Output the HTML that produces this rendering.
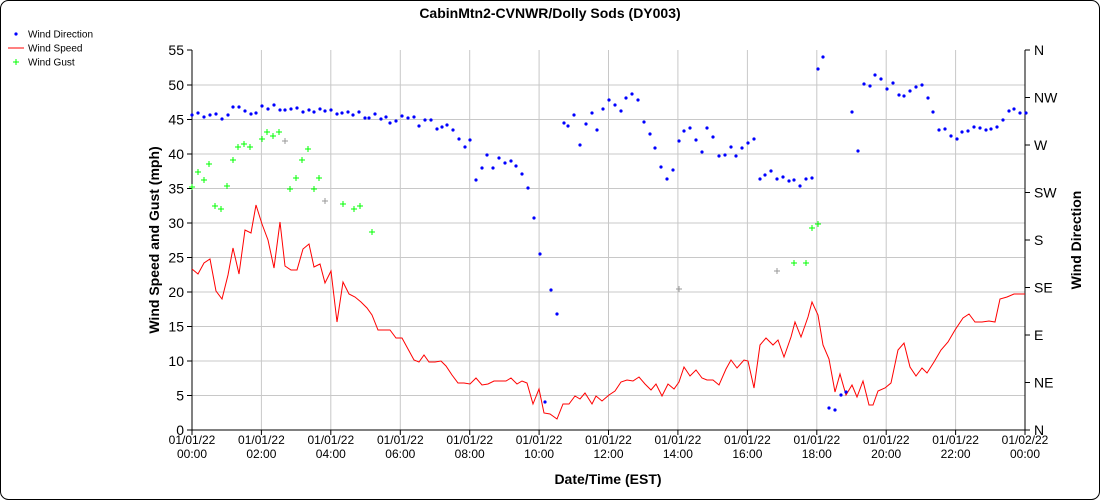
<!DOCTYPE html>
<html><head><meta charset="utf-8"><style>body{margin:0;background:#fff}svg{display:block;font-family:"Liberation Sans",sans-serif}</style></head><body>
<svg width="1100" height="500" viewBox="0 0 1100 500" xmlns="http://www.w3.org/2000/svg">
<rect x="0.5" y="0.5" width="1099" height="499" rx="8" fill="#fff" stroke="#000"/>
<text x="550" y="18" text-anchor="middle" font-size="14" font-weight="bold">CabinMtn2-CVNWR/Dolly Sods (DY003)</text>
<g font-size="10">
<circle cx="16" cy="34" r="1.6" fill="#00f"/><text x="28" y="37.5">Wind Direction</text>
<line x1="8" y1="48" x2="24" y2="48" stroke="#f00"/><text x="28" y="51.5">Wind Speed</text>
<path d="M13 62h6M16 59v6" stroke="#0f0"/><text x="28" y="65.5">Wind Gust</text>
</g>
<g stroke="#c8c8c8" stroke-width="1">
<path d="M192 395.5H1025M192 361H1025M192 326.5H1025M192 292H1025M192 257.5H1025M192 223H1025M192 188.5H1025M192 154H1025M192 119.5H1025M192 85H1025"/>
<path d="M261.4 50V430M330.8 50V430M400.3 50V430M469.7 50V430M539.1 50V430M608.5 50V430M677.9 50V430M747.4 50V430M816.8 50V430M886.2 50V430M955.6 50V430"/>
</g>
<g stroke="#000" fill="none">
<path d="M192 50V430H1025V50"/>
<path d="M187 430h5M187 395.5h5M187 361h5M187 326.5h5M187 292h5M187 257.5h5M187 223h5M187 188.5h5M187 154h5M187 119.5h5M187 85h5M187 50h5"/>
<path d="M1025 50h5M1025 97.5h5M1025 145h5M1025 192.5h5M1025 240h5M1025 287.5h5M1025 335h5M1025 382.5h5M1025 430h5"/>
<path d="M192 430v5M261.4 430v5M330.8 430v5M400.3 430v5M469.7 430v5M539.1 430v5M608.5 430v5M677.9 430v5M747.4 430v5M816.8 430v5M886.2 430v5M955.6 430v5M1025 430v5"/>
</g>
<g font-size="14" text-anchor="end">
<text x="184" y="435">0</text><text x="184" y="400.5">5</text><text x="184" y="366">10</text><text x="184" y="331.5">15</text><text x="184" y="297">20</text><text x="184" y="262.5">25</text><text x="184" y="228">30</text><text x="184" y="193.5">35</text><text x="184" y="159">40</text><text x="184" y="124.5">45</text><text x="184" y="90">50</text><text x="184" y="55">55</text>
</g>
<g font-size="14">
<text x="1034" y="55">N</text><text x="1034" y="102.5">NW</text><text x="1034" y="150">W</text><text x="1034" y="197.5">SW</text><text x="1034" y="245">S</text><text x="1034" y="292.5">SE</text><text x="1034" y="340">E</text><text x="1034" y="387.5">NE</text><text x="1034" y="435">N</text>
</g>
<g font-size="12" text-anchor="middle">
<text x="192" y="444">01/01/22</text><text x="192" y="458">00:00</text>
<text x="261.4" y="444">01/01/22</text><text x="261.4" y="458">02:00</text>
<text x="330.8" y="444">01/01/22</text><text x="330.8" y="458">04:00</text>
<text x="400.3" y="444">01/01/22</text><text x="400.3" y="458">06:00</text>
<text x="469.7" y="444">01/01/22</text><text x="469.7" y="458">08:00</text>
<text x="539.1" y="444">01/01/22</text><text x="539.1" y="458">10:00</text>
<text x="608.5" y="444">01/01/22</text><text x="608.5" y="458">12:00</text>
<text x="677.9" y="444">01/01/22</text><text x="677.9" y="458">14:00</text>
<text x="747.4" y="444">01/01/22</text><text x="747.4" y="458">16:00</text>
<text x="816.8" y="444">01/01/22</text><text x="816.8" y="458">18:00</text>
<text x="886.2" y="444">01/01/22</text><text x="886.2" y="458">20:00</text>
<text x="955.6" y="444">01/01/22</text><text x="955.6" y="458">22:00</text>
<text x="1025" y="444">01/02/22</text><text x="1025" y="458">00:00</text>
</g>
<text x="608" y="484" text-anchor="middle" font-size="14" font-weight="bold">Date/Time (EST)</text>
<text transform="translate(159,240) rotate(-90)" text-anchor="middle" font-size="14" font-weight="bold">Wind Speed and Gust (mph)</text>
<text transform="translate(1081,240) rotate(-90)" text-anchor="middle" font-size="14" font-weight="bold">Wind Direction</text>
<polyline fill="none" stroke="#f00" stroke-width="1" points="192,269 198,274 204,263 210,259 216,291 222,299 228,275 233,248 239,274 245,230 251,233 256,205 262,224 268,240 274,268 280,222 285,266 291,270 297,270 303,249 309,244 314,267 320,264 325,283 331,271 337,322 343,282 349,294 355,297 361,302 367,308 372,315 378,330 384,330 390,330 396,338 402,338 408,349 414,360 419,362 424,355 429,362 435,362 441,361 446,366 452,375 458,383 464,383 470,384 476,378 482,385 488,384 494,381 506,381 511,378 517,384 522,381 527,383 533,404 539,389 544,413 550,414 557,419 563,404 569,404 575,396 580,399 585,393 592,404 596,396 602,401 609,395 615,391 621,382 627,380 633,381 639,377 645,384 651,390 656,384 662,396 668,384 674,389 679,382 684,367 690,376 696,370 702,378 707,380 713,380 719,385 726,369 731,360 737,368 744,360 748,361 754,388 760,345 766,338 773,345 778,340 784,357 791,337 795,322 801,337 808,317 812,302 818,315 823,345 829,359 835,392 840,374 846,395 852,385 857,397 863,381 869,405 873,405 878,391 885,388 891,383 898,350 904,343 910,367 916,376 922,368 927,373 934,362 941,350 948,342 955,330 963,318 969,314 975,322 982,322 989,321 995,322 1000,299 1007,297 1014,294 1025,294"/>
<g fill="#00f">
<script>/* none */</script>
</g>
<g fill="#00f" id="dirs">
<circle cx="192" cy="115" r="1.6"/><circle cx="198" cy="113" r="1.6"/><circle cx="204" cy="117" r="1.6"/><circle cx="210" cy="115" r="1.6"/><circle cx="216" cy="114" r="1.6"/><circle cx="222" cy="119" r="1.6"/><circle cx="228" cy="115" r="1.6"/><circle cx="233" cy="107" r="1.6"/><circle cx="239" cy="107" r="1.6"/><circle cx="245" cy="111" r="1.6"/><circle cx="251" cy="114" r="1.6"/><circle cx="256" cy="113" r="1.6"/><circle cx="262" cy="106" r="1.6"/><circle cx="268" cy="109" r="1.6"/><circle cx="274" cy="105" r="1.6"/><circle cx="280" cy="110" r="1.6"/><circle cx="285" cy="110" r="1.6"/><circle cx="291" cy="109" r="1.6"/><circle cx="297" cy="108" r="1.6"/><circle cx="303" cy="112" r="1.6"/><circle cx="309" cy="110" r="1.6"/><circle cx="314" cy="112" r="1.6"/><circle cx="320" cy="109" r="1.6"/><circle cx="325" cy="111" r="1.6"/><circle cx="331" cy="110" r="1.6"/><circle cx="337" cy="114" r="1.6"/><circle cx="342" cy="113" r="1.6"/><circle cx="348" cy="112" r="1.6"/><circle cx="353" cy="115" r="1.6"/><circle cx="359" cy="112" r="1.6"/><circle cx="365" cy="118" r="1.6"/><circle cx="369" cy="118" r="1.6"/><circle cx="375" cy="114" r="1.6"/><circle cx="381" cy="119" r="1.6"/><circle cx="386" cy="117" r="1.6"/><circle cx="390" cy="123" r="1.6"/><circle cx="396" cy="121" r="1.6"/><circle cx="402" cy="116" r="1.6"/><circle cx="408" cy="118" r="1.6"/><circle cx="414" cy="117" r="1.6"/><circle cx="419" cy="126" r="1.6"/><circle cx="425" cy="120" r="1.6"/><circle cx="431" cy="120" r="1.6"/><circle cx="437" cy="129" r="1.6"/><circle cx="442" cy="127" r="1.6"/><circle cx="447" cy="125" r="1.6"/><circle cx="453" cy="130" r="1.6"/><circle cx="459" cy="139" r="1.6"/><circle cx="465" cy="147" r="1.6"/><circle cx="470" cy="140" r="1.6"/><circle cx="476" cy="180" r="1.6"/><circle cx="482" cy="168" r="1.6"/><circle cx="487" cy="155" r="1.6"/><circle cx="493" cy="168" r="1.6"/><circle cx="499" cy="158" r="1.6"/><circle cx="505" cy="163" r="1.6"/><circle cx="511" cy="161" r="1.6"/><circle cx="516" cy="166" r="1.6"/><circle cx="522" cy="174" r="1.6"/><circle cx="528" cy="188" r="1.6"/><circle cx="534" cy="218" r="1.6"/><circle cx="540" cy="254" r="1.6"/><circle cx="545" cy="402" r="1.6"/><circle cx="551" cy="290" r="1.6"/><circle cx="557" cy="314" r="1.6"/><circle cx="564" cy="123" r="1.6"/><circle cx="568" cy="126" r="1.6"/><circle cx="574" cy="115" r="1.6"/><circle cx="580" cy="145" r="1.6"/><circle cx="586" cy="124" r="1.6"/><circle cx="592" cy="113" r="1.6"/><circle cx="597" cy="130" r="1.6"/><circle cx="603" cy="109" r="1.6"/><circle cx="609" cy="100" r="1.6"/><circle cx="615" cy="105" r="1.6"/><circle cx="621" cy="111" r="1.6"/><circle cx="626" cy="98" r="1.6"/><circle cx="632" cy="94" r="1.6"/><circle cx="638" cy="100" r="1.6"/><circle cx="644" cy="122" r="1.6"/><circle cx="650" cy="134" r="1.6"/><circle cx="655" cy="148" r="1.6"/><circle cx="661" cy="167" r="1.6"/><circle cx="667" cy="179" r="1.6"/><circle cx="673" cy="170" r="1.6"/><circle cx="679" cy="141" r="1.6"/><circle cx="684" cy="131" r="1.6"/><circle cx="690" cy="128" r="1.6"/><circle cx="696" cy="140" r="1.6"/><circle cx="702" cy="152" r="1.6"/><circle cx="707" cy="128" r="1.6"/><circle cx="713" cy="137" r="1.6"/><circle cx="719" cy="156" r="1.6"/><circle cx="725" cy="155" r="1.6"/><circle cx="731" cy="147" r="1.6"/><circle cx="736" cy="156" r="1.6"/><circle cx="742" cy="148" r="1.6"/><circle cx="748" cy="143" r="1.6"/><circle cx="754" cy="139" r="1.6"/><circle cx="760" cy="179" r="1.6"/><circle cx="765" cy="175" r="1.6"/><circle cx="771" cy="171" r="1.6"/><circle cx="777" cy="179" r="1.6"/><circle cx="783" cy="177" r="1.6"/><circle cx="789" cy="181" r="1.6"/><circle cx="794" cy="180" r="1.6"/><circle cx="800" cy="186" r="1.6"/><circle cx="806" cy="179" r="1.6"/><circle cx="812" cy="178" r="1.6"/><circle cx="818" cy="69" r="1.6"/><circle cx="823" cy="57" r="1.6"/><circle cx="829" cy="408" r="1.6"/><circle cx="835" cy="410" r="1.6"/><circle cx="841" cy="395" r="1.6"/><circle cx="846" cy="392" r="1.6"/><circle cx="852" cy="112" r="1.6"/><circle cx="858" cy="151" r="1.6"/><circle cx="864" cy="84" r="1.6"/><circle cx="870" cy="86" r="1.6"/><circle cx="875" cy="75" r="1.6"/><circle cx="881" cy="79" r="1.6"/><circle cx="887" cy="89" r="1.6"/><circle cx="893" cy="83" r="1.6"/><circle cx="899" cy="95" r="1.6"/><circle cx="904" cy="96" r="1.6"/><circle cx="910" cy="91" r="1.6"/><circle cx="916" cy="87" r="1.6"/><circle cx="922" cy="85" r="1.6"/><circle cx="928" cy="98" r="1.6"/><circle cx="933" cy="112" r="1.6"/><circle cx="939" cy="130" r="1.6"/><circle cx="945" cy="129" r="1.6"/><circle cx="951" cy="136" r="1.6"/><circle cx="957" cy="139" r="1.6"/><circle cx="962" cy="132" r="1.6"/><circle cx="968" cy="131" r="1.6"/><circle cx="974" cy="127" r="1.6"/><circle cx="980" cy="128" r="1.6"/><circle cx="986" cy="130" r="1.6"/><circle cx="991" cy="129" r="1.6"/><circle cx="997" cy="127" r="1.6"/><circle cx="1003" cy="120" r="1.6"/><circle cx="1009" cy="111" r="1.6"/><circle cx="1014" cy="109" r="1.6"/><circle cx="1020" cy="113" r="1.6"/><circle cx="1026" cy="113" r="1.6"/>
</g>
<g stroke="#0f0" stroke-width="1" fill="none">
<path d="M189 187h6M192 184v6M195 172h6M198 169v6M201 180h6M204 177v6M206 164h6M209 161v6M212 206h6M215 203v6M218 209h6M221 206v6M224 186h6M227 183v6M230 160h6M233 157v6M235 147h6M238 144v6M241 144h6M244 141v6M247 147h6M250 144v6M259 139h6M262 136v6M264 132h6M267 129v6M270 136h6M273 133v6M276 132h6M279 129v6M287 189h6M290 186v6M293 178h6M296 175v6M299 160h6M302 157v6M305 149h6M308 146v6M311 189h6M314 186v6M316 178h6M319 175v6M340 204h6M343 201v6M351 209h6M354 206v6M357 206h6M360 203v6M369 232h6M372 229v6M791 263h6M794 260v6M803 263h6M806 260v6M809 228h6M812 225v6M815 224h6M818 221v6"/>
</g>
<g stroke="#999" stroke-width="1" fill="none">
<path d="M282 141h6M285 138v6M322 201h6M325 198v6M676 289h6M679 286v6M774 271h6M777 268v6"/>
</g>
</svg>
</body></html>
